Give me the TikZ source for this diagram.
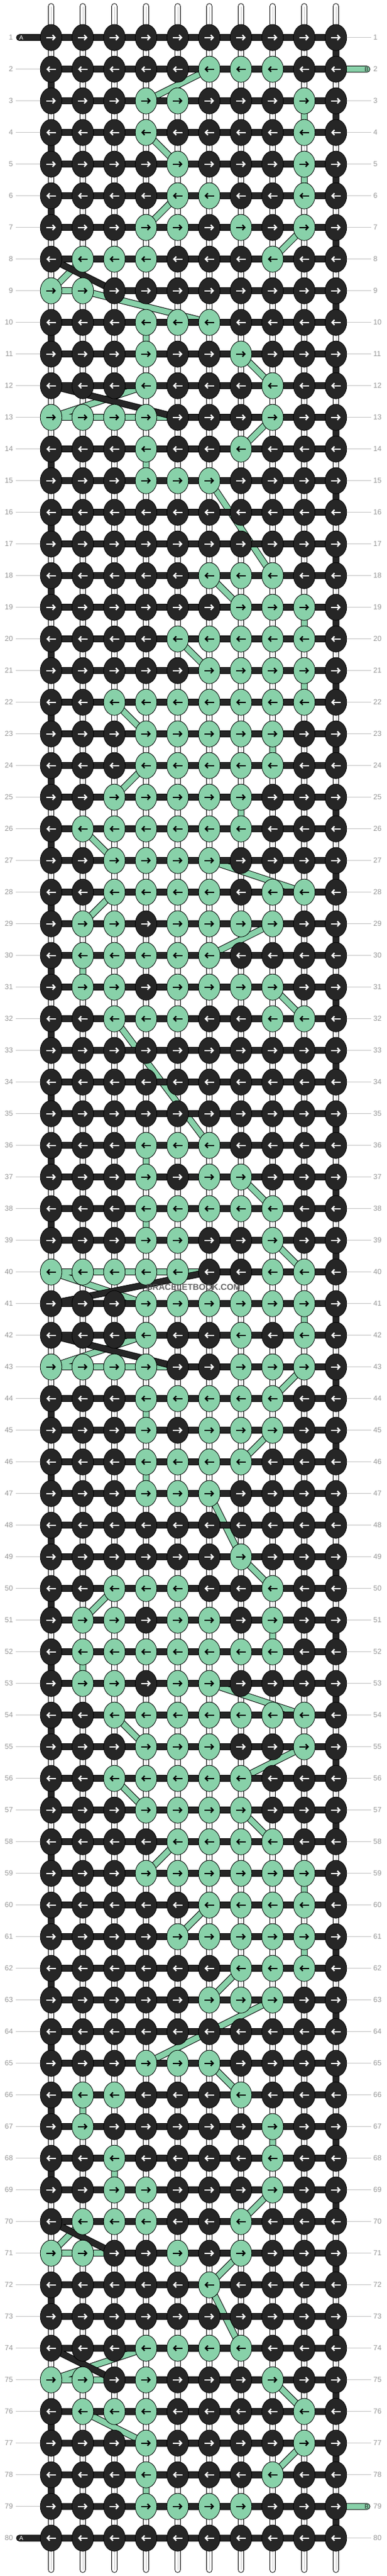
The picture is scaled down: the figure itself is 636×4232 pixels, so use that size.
\documentclass[tikz,border=0pt]{standalone}
\usepackage{fontspec}
\setmainfont{Liberation Sans}
\usetikzlibrary{shapes.geometric, arrows.meta}

\definecolor{strA}{RGB}{38,38,38}
\definecolor{strB}{RGB}{136,209,169}
\definecolor{numgray}{RGB}{150,150,150}
\definecolor{guidegray}{RGB}{195,195,195}

\pgfdeclarelayer{strings}
\pgfdeclarelayer{behind}
\pgfdeclarelayer{above}
\pgfsetlayers{strings,behind,above,main}

\tikzstyle{knot} = [ellipse, minimum width=35.5pt, minimum height=43pt, inner sep=0pt, draw=black, line width=0.8pt]
\tikzstyle{knotarrow} = [line width=2.2pt, -{Straight Barb[length=4pt, width=8.5pt]}]
\tikzstyle{thread} = [draw=black, line width=1pt, double distance=9pt, line cap=round, line join=round]
\tikzstyle{base} = [draw=black, line width=1pt, double=white, double distance=8.5pt, line cap=round]
\tikzstyle{basemid} = [draw=black!22, line width=0.7pt]
\tikzstyle{rownum} = [font=\fontsize{12}{12}\selectfont, text=numgray, inner sep=0pt]
\tikzstyle{guide} = [draw=guidegray, line width=1pt]
\tikzstyle{tailtext} = [font=\fontsize{10}{10}\selectfont, inner sep=0pt]

% 0 = string A (dark), 1 = string B (green)
\def\knotrows{%
{0,0,0,0,0,0,0,0,0,0},% 1
{0,0,0,0,0,1,1,1,0,0},%
{0,0,0,1,1,0,0,0,1,0},%
{0,0,0,1,0,0,0,0,1,0},%
{0,0,0,0,1,0,0,0,1,0},% 5
{0,0,0,0,1,1,0,0,1,0},%
{0,0,0,1,1,0,1,0,1,0},%
{0,1,1,1,0,0,0,1,0,0},%
{1,1,0,0,0,0,0,0,0,0},%
{0,0,0,1,1,1,0,0,0,0},% 10
{0,0,0,1,0,0,1,0,0,0},%
{0,0,0,1,0,0,0,1,0,0},%
{1,1,1,1,0,0,0,1,0,0},%
{0,0,0,1,0,0,1,0,0,0},%
{0,0,0,1,1,1,0,0,0,0},% 15
{0,0,0,0,0,0,0,0,0,0},%
{0,0,0,0,0,0,0,0,0,0},%
{0,0,0,0,0,1,1,1,0,0},%
{0,0,0,0,0,0,1,1,1,0},%
{0,0,0,0,1,1,1,1,1,0},% 20
{0,0,0,0,0,1,1,1,1,0},%
{0,0,1,1,1,1,1,1,1,0},%
{0,0,0,1,1,1,1,1,0,0},%
{0,0,0,1,1,1,1,1,0,0},%
{0,0,1,1,1,1,1,0,0,0},% 25
{0,1,1,1,1,1,1,0,0,0},%
{0,0,1,1,1,1,0,0,0,0},%
{0,0,1,1,1,1,0,1,1,0},%
{0,1,1,0,1,1,1,1,0,0},%
{0,1,1,1,1,1,0,0,0,0},% 30
{0,1,1,0,1,1,1,1,0,0},%
{0,0,1,1,1,0,0,1,1,0},%
{0,0,0,0,0,0,0,0,0,0},%
{0,0,0,0,0,0,0,0,0,0},%
{0,0,0,0,0,0,0,0,0,0},% 35
{0,0,0,1,1,1,0,0,0,0},%
{0,0,0,1,0,1,1,0,0,0},%
{0,0,0,1,1,1,1,1,0,0},%
{0,0,0,1,1,0,0,1,0,0},%
{1,1,1,1,1,0,0,1,1,0},% 40
{0,0,0,1,1,1,1,1,1,0},%
{0,0,0,1,0,0,1,0,1,0},%
{1,1,1,1,0,0,1,1,1,0},%
{0,0,0,1,1,1,1,1,0,0},%
{0,0,0,1,0,1,1,1,0,0},% 45
{0,0,0,1,1,1,1,0,0,0},%
{0,0,0,1,1,1,0,0,0,0},%
{0,0,0,0,0,0,0,0,0,0},%
{0,0,0,0,0,0,1,0,0,0},%
{0,0,1,1,1,0,0,1,0,0},% 50
{0,1,1,0,1,1,0,1,0,0},%
{0,1,1,1,1,1,1,1,0,0},%
{0,1,1,0,1,1,0,0,0,0},%
{0,0,1,1,1,1,1,1,1,0},%
{0,0,0,1,1,1,0,0,1,0},% 55
{0,0,1,1,1,1,1,0,0,0},%
{0,0,0,1,1,1,1,0,0,0},%
{0,0,0,0,1,1,1,1,0,0},%
{0,0,0,1,1,1,1,1,1,0},%
{0,0,0,0,0,1,1,1,1,0},% 60
{0,0,0,0,1,1,1,1,1,0},%
{0,0,0,0,0,0,1,1,1,0},%
{0,0,0,0,0,1,1,1,0,0},%
{0,0,0,0,0,0,0,0,0,0},%
{0,0,0,1,1,1,0,0,0,0},% 65
{0,1,1,0,0,0,1,0,0,0},%
{0,1,0,0,0,0,0,1,0,0},%
{0,0,1,0,0,0,0,1,0,0},%
{0,0,1,1,0,0,0,1,0,0},%
{0,1,1,1,0,0,1,0,0,0},% 70
{1,1,0,0,1,0,1,0,0,0},%
{0,0,0,0,0,1,0,0,0,0},%
{0,0,0,0,0,0,0,0,0,0},%
{0,0,0,1,1,1,1,0,0,0},%
{1,1,0,1,0,0,0,1,0,0},% 75
{0,1,1,1,0,0,0,0,1,0},%
{0,0,0,1,0,0,0,0,1,0},%
{0,0,0,1,0,0,0,1,0,0},%
{0,0,0,1,1,1,1,0,0,0},%
{0,0,0,0,0,0,0,0,0,0}% 80
}

\begin{document}
\begin{tikzpicture}[x=1pt, y=-1pt]
\useasboundingbox (0,0) rectangle (636,4232);
\begin{pgfonlayer}{strings}
	\fill [white] (0,0) rectangle (636,4232);
\end{pgfonlayer}

% knots
\foreach \rowdata [count=\r] in \knotrows {
	\pgfmathsetmacro\ky{61.7+52*(\r-1)}
	\foreach \v [count=\c] in \rowdata {
		\pgfmathsetmacro\kx{84+52*(\c-1)}
		\expandafter\xdef\csname kc-\r-\c\endcsname{\v}
		\ifnum\v=0 \def\kfill{strA}\def\kpen{white}\else \def\kfill{strB}\def\kpen{black}\fi
		\node (k-\r-\c) [knot, fill=\kfill] at (\kx,\ky) {};
		\ifodd\r
			\draw [knotarrow, \kpen] ([xshift=-7.8pt]k-\r-\c.center) -- ([xshift=7.8pt]k-\r-\c.center);
		\else
			\draw [knotarrow, \kpen] ([xshift=7.8pt]k-\r-\c.center) -- ([xshift=-7.8pt]k-\r-\c.center);
		\fi
	}
}

% string ends
\coordinate (tailA-in) at (32,61.7);
\coordinate (tailA-out) at (32,4169.7);
\coordinate (tailB-in) at (603,113.7);
\coordinate (tailB-out) at (603,4117.7);

% collect the knots of each string in knotting order
\xdef\pathA{(tailA-in)}
\xdef\pathB{(tailB-in)}
\foreach \r in {1,...,80} {
	\ifodd\r \def\colorder{1,...,10}\else \def\colorder{10,...,1}\fi
	\foreach \c in \colorder {
		\ifnum\csname kc-\r-\c\endcsname=0
			\xdef\pathA{\pathA -- (k-\r-\c.center)}
		\else
			\xdef\pathB{\pathB -- (k-\r-\c.center)}
		\fi
	}
}

\begin{pgfonlayer}{strings}
	\foreach \c in {1,...,10} {
		\pgfmathsetmacro\kx{84+52*(\c-1)}
		\coordinate (top-\c) at (\kx,10.5);
		\coordinate (bot-\c) at (\kx,4221.5);
		\draw [base] (top-\c) -- (bot-\c);
		\draw [basemid] (top-\c) -- (bot-\c);
	}
\end{pgfonlayer}
\begin{pgfonlayer}{behind}
	\draw [thread, double=strB] \pathB -- (tailB-out);
\end{pgfonlayer}
\begin{pgfonlayer}{above}
	\draw [thread, double=strA] \pathA -- (tailA-out);
\end{pgfonlayer}

\node (lab-A1) [tailtext, text=white] at (35,61.7) {A};
\node (lab-A2) [tailtext, text=white] at (35,4169.7) {A};
\node (lab-B1) [tailtext, text=strA] at (602.5,113.7) {B};
\node (lab-B2) [tailtext, text=strA] at (602.5,4117.7) {B};

% row numbers
\foreach \r in {1,...,80} {
	\pgfmathsetmacro\ky{61.7+52*(\r-1)}
	\node (num-l-\r) [rownum, anchor=east] at (21.5,\ky) {\r};
	\node (num-r-\r) [rownum, anchor=west] at (613.5,\ky) {\r};
	\coordinate (gl-\r) at (26,\ky);
	\coordinate (gr-\r) at (610,\ky);
	\ifnum\r>1 \ifnum\r<80 \draw [guide] (gl-\r) -- (k-\r-1); \fi\fi
	\ifnum\r=2 \else \ifnum\r=79 \else \draw [guide] (k-\r-10) -- (gr-\r); \fi\fi
}

\node (mark) [font=\bfseries\fontsize{14}{14}\selectfont, text=black!70, opacity=0.85] at (318,2115) {BRACELETBOOK.COM};
\end{tikzpicture}
\end{document}
